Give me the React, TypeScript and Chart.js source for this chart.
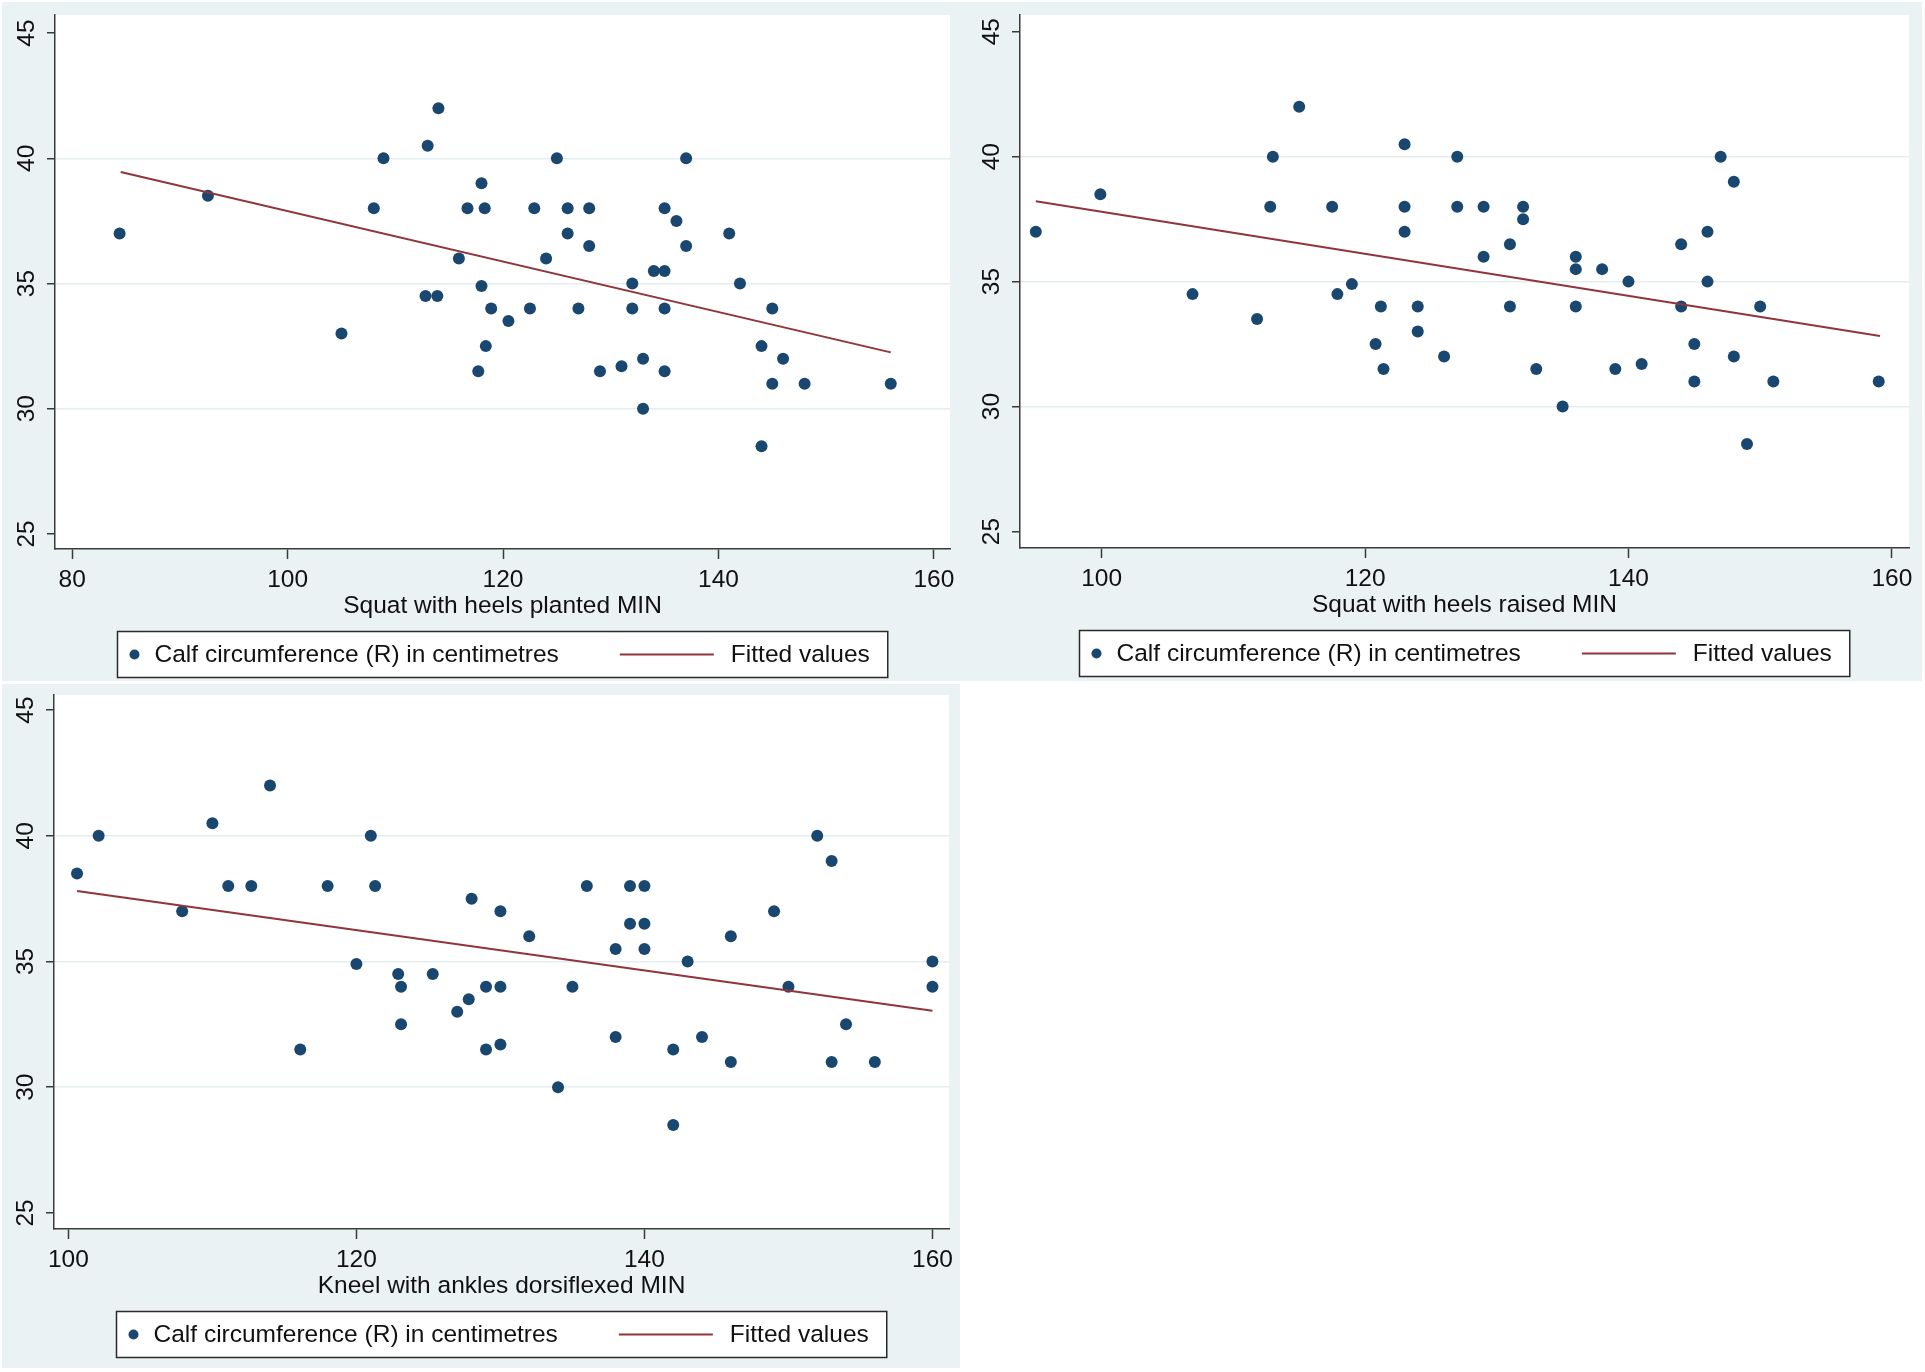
import React, { useEffect, useRef } from "react";
import { Chart, registerables } from "chart.js";

Chart.register(...registerables);

// ---------- data ----------
const yTickValues = [25, 30, 35, 40, 45];
const seriesLabel = "Calf circumference (R) in centimetres";
const fitLabel = "Fitted values";

// Panel 1: Squat with heels planted
const plantedTitle = "Squat with heels planted MIN";
const plantedXTicks = [80, 100, 120, 140, 160];
const plantedXRange = [78.4, 161.5];
const plantedYRange = [24.4, 45.72];
const plantedX = [84.4, 92.6, 105, 108, 108.9, 113, 114, 112.8, 113.9, 115.9, 116.7, 118, 118.3, 118, 118.9, 118.4, 117.7, 120.5, 122.5, 122.9, 124, 125, 126, 126, 127, 128, 128, 129, 131, 132, 132, 133, 133, 134, 135, 135, 135, 135, 136.1, 137, 137, 141, 142, 144, 144, 145, 145, 146, 148, 156];
const plantedY = [37, 38.5, 33, 38, 40, 40.5, 42, 34.5, 34.5, 36, 38, 39, 38, 34.9, 34, 32.5, 31.5, 33.5, 34, 38, 36, 40, 38, 37, 34, 38, 36.5, 31.5, 31.7, 35, 34, 32, 30, 35.5, 35.5, 38, 34, 31.5, 37.5, 40, 36.5, 37, 35, 32.5, 28.5, 34, 31, 32, 31, 31];
const plantedFitX = [84.5, 156];
const plantedFitY = [39.45, 32.25];

// Panel 2: Squat with heels raised
const raisedTitle = "Squat with heels raised MIN";
const raisedXTicks = [100, 120, 140, 160];
const raisedXRange = [93.8, 161.3];
const raisedYRange = [24.34, 45.67];
const raisedX = [95, 99.9, 106.9, 111.8, 112.8, 113, 115, 117.5, 117.9, 119, 120.8, 121.2, 121.4, 123, 123, 123, 124, 124, 126, 127, 127, 129, 129, 131, 131, 132, 132, 133, 135, 136, 136, 136, 138, 139, 140, 141, 144, 144, 145, 145, 146, 146, 147, 148, 148, 149, 150, 151, 159];
const raisedY = [37, 38.5, 34.5, 33.5, 38, 40, 42, 38, 34.5, 34.9, 32.5, 34, 31.5, 40.5, 38, 37, 34, 33, 32, 40, 38, 38, 36, 36.5, 34, 38, 37.5, 31.5, 30, 36, 35.5, 34, 35.5, 31.5, 35, 31.7, 36.5, 34, 32.5, 31, 37, 35, 40, 39, 32, 28.5, 34, 31, 31];
const raisedFitX = [95, 159.1];
const raisedFitY = [38.22, 32.82];

// Panel 3: Kneel with ankles dorsiflexed
const kneelTitle = "Kneel with ankles dorsiflexed MIN";
const kneelXTicks = [100, 120, 140, 160];
const kneelXRange = [99.0, 161.15];
const kneelYRange = [24.36, 45.6];
const kneelX = [100.6, 102.1, 107.9, 110, 111.1, 112.7, 114, 116.1, 118, 120, 121, 121.3, 122.9, 123.1, 123.1, 125.3, 127, 127.8, 128, 129, 129, 130, 130, 130, 132, 134, 135, 136, 138, 138, 139, 139, 140, 140, 140, 142, 142, 143, 144, 146, 146, 149, 150, 152, 153, 153, 154, 156, 160, 160];
const kneelY = [38.5, 40, 37, 40.5, 38, 38, 42, 31.5, 38, 34.9, 40, 38, 34.5, 34, 32.5, 34.5, 33, 33.5, 37.5, 34, 31.5, 37, 34, 31.7, 36, 30, 34, 38, 35.5, 32, 38, 36.5, 38, 36.5, 35.5, 31.5, 28.5, 35, 32, 36, 31, 37, 34, 40, 39, 31, 32.5, 31, 35, 34];
const kneelFitX = [100.6, 160];
const kneelFitY = [37.8, 33.04];

// ---------- styles ----------
const FONT_FAMILY = '"Liberation Sans", Arial, Helvetica, sans-serif';
const FONT_SIZE = 24.5;
const NAVY = "#1A476F";
const MAROON = "#90353B";
const PANEL_BG = "#EAF2F3";
const GRID = "#E4EDEF";
const AXIS = "#3a3a3a";
const TEXT = "#111111";

const plotBgPlugin = {
  id: "plotBg",
  beforeDraw(chart: any) {
    const { ctx, chartArea: a } = chart;
    ctx.save();
    ctx.fillStyle = "#ffffff";
    ctx.fillRect(a.left, a.top, a.right - a.left, a.bottom - a.top);
    ctx.restore();
  },
};

const stataLegendPlugin = {
  id: "stataLegend",
  afterDraw(chart: any) {
    const { ctx, chartArea: a } = chart;
    const dsPts = chart.data.datasets.find((d: any) => d.type === "scatter");
    const dsFit = chart.data.datasets.find((d: any) => d.type === "line");
    ctx.save();
    ctx.font = `${FONT_SIZE}px ${FONT_FAMILY}`;
    const w1 = ctx.measureText(dsPts.label).width;
    const w2 = ctx.measureText(dsFit.label).width;
    const padL = 17, dotGap = 20, midGap = 61, lineLen = 94, lineGap = 17, padR = 18;
    const boxW = padL + dotGap + w1 + midGap + lineLen + lineGap + w2 + padR;
    const cx = (a.left + a.right) / 2;
    const left = Math.round(cx - boxW / 2) + 0.5;
    const top = Math.round(a.bottom + 82) + 0.5;
    const h = 46;
    ctx.fillStyle = "#ffffff";
    ctx.fillRect(left, top, boxW, h);
    ctx.strokeStyle = "#2a2a2a";
    ctx.lineWidth = 1.5;
    ctx.strokeRect(left, top, boxW, h);
    const cy = top + h / 2;
    ctx.beginPath();
    ctx.arc(left + padL, cy, 5, 0, Math.PI * 2);
    ctx.fillStyle = dsPts.backgroundColor;
    ctx.fill();
    ctx.fillStyle = TEXT;
    ctx.textBaseline = "middle";
    ctx.textAlign = "left";
    ctx.fillText(dsPts.label, left + padL + dotGap, cy + 1);
    const lx = left + padL + dotGap + w1 + midGap;
    ctx.beginPath();
    ctx.moveTo(lx, cy);
    ctx.lineTo(lx + lineLen, cy);
    ctx.strokeStyle = dsFit.borderColor;
    ctx.lineWidth = 2;
    ctx.stroke();
    ctx.fillStyle = TEXT;
    ctx.fillText(dsFit.label, lx + lineLen + lineGap, cy + 1);
    ctx.restore();
  },
};

type PanelProps = {
  left: number;
  top: number;
  width: number;
  height: number;
  yAxisWidth: number;
  padTop: number;
  padRight: number;
  padBottom: number;
  xs: number[];
  ys: number[];
  fitX: number[];
  fitY: number[];
  xTicks: number[];
  xRange: number[];
  yRange: number[];
  xTitle: string;
};

function Panel(p: PanelProps) {
  const ref = useRef<HTMLCanvasElement | null>(null);
  useEffect(() => {
    if (!ref.current) return;
    const font = { family: FONT_FAMILY, size: FONT_SIZE };
    const chart = new Chart(ref.current, {
      type: "scatter",
      data: {
        datasets: [
          {
            type: "line",
            label: fitLabel,
            data: p.fitX.map((x, i) => ({ x, y: p.fitY[i] })),
            borderColor: MAROON,
            backgroundColor: MAROON,
            borderWidth: 2,
            pointRadius: 0,
            fill: false,
            order: 0,
          } as any,
          {
            type: "scatter",
            label: seriesLabel,
            data: p.xs.map((x, i) => ({ x, y: p.ys[i] })),
            backgroundColor: NAVY,
            borderColor: NAVY,
            borderWidth: 0,
            pointRadius: 6,
            order: 1,
          } as any,
        ],
      },
      options: {
        animation: false,
        responsive: false,
        events: [],
        layout: {
          autoPadding: false,
          padding: { left: 0, top: p.padTop, right: p.padRight, bottom: p.padBottom },
        },
        plugins: {
          legend: { display: false },
          tooltip: { enabled: false },
        },
        scales: {
          x: {
            type: "linear",
            position: "bottom",
            min: p.xRange[0],
            max: p.xRange[1],
            afterBuildTicks: (s: any) => {
              s.ticks = p.xTicks.map((v) => ({ value: v }));
            },
            afterFit: (s: any) => {
              s.height = 80;
              s.paddingLeft = 0;
              s.paddingRight = 0;
            },
            ticks: {
              font,
              color: TEXT,
              padding: 7,
              minRotation: 0,
              maxRotation: 0,
              autoSkip: false,
              callback: (v: any) => String(v),
            },
            grid: {
              drawOnChartArea: false,
              tickLength: 10,
              tickColor: AXIS,
              tickWidth: 1.5,
              color: AXIS,
            },
            border: { display: true, color: AXIS, width: 1.5 },
            title: {
              display: true,
              text: p.xTitle,
              font,
              color: TEXT,
              padding: { top: 0, bottom: 8 },
            },
          },
          y: {
            type: "linear",
            position: "left",
            min: p.yRange[0],
            max: p.yRange[1],
            afterBuildTicks: (s: any) => {
              s.ticks = yTickValues.map((v) => ({ value: v }));
            },
            afterFit: (s: any) => {
              s.width = p.yAxisWidth;
              s.paddingTop = 0;
              s.paddingBottom = 0;
            },
            ticks: {
              font,
              color: TEXT,
              padding: 6,
              minRotation: 90,
              maxRotation: 90,
              crossAlign: "center",
              autoSkip: false,
              callback: (v: any) => String(v),
            },
            grid: {
              color: (c: any) =>
                c.tick && (c.tick.value === yTickValues[0] || c.tick.value === yTickValues[yTickValues.length - 1])
                  ? "rgba(0,0,0,0)"
                  : GRID,
              lineWidth: 1.5,
              tickLength: 8,
              tickColor: AXIS,
              tickWidth: 1.5,
              drawOnChartArea: true,
            },
            border: { display: true, color: AXIS, width: 1.5 },
          },
        },
      } as any,
      plugins: [plotBgPlugin, stataLegendPlugin],
    });
    return () => chart.destroy();
  }, []);
  return (
    <div
      style={{
        position: "absolute",
        left: p.left,
        top: p.top,
        width: p.width,
        height: p.height,
        background: PANEL_BG,
      }}
    >
      <canvas ref={ref} width={p.width} height={p.height} style={{ display: "block", width: p.width, height: p.height }} />
    </div>
  );
}

export default function App() {
  return (
    <div style={{ position: "absolute", left: 0, top: 0, width: 1925, height: 1372, background: "#ffffff", overflow: "hidden" }}>
      <Panel
        left={2} top={2} width={958} height={679}
        yAxisWidth={53} padTop={13} padRight={10} padBottom={52}
        xs={plantedX} ys={plantedY} fitX={plantedFitX} fitY={plantedFitY}
        xTicks={plantedXTicks} xRange={plantedXRange} yRange={plantedYRange} xTitle={plantedTitle}
      />
      <Panel
        left={960} top={2} width={962} height={679}
        yAxisWidth={60} padTop={13} padRight={13} padBottom={53}
        xs={raisedX} ys={raisedY} fitX={raisedFitX} fitY={raisedFitY}
        xTicks={raisedXTicks} xRange={raisedXRange} yRange={raisedYRange} xTitle={raisedTitle}
      />
      <Panel
        left={2} top={684} width={958} height={684}
        yAxisWidth={52} padTop={11} padRight={11} padBottom={59}
        xs={kneelX} ys={kneelY} fitX={kneelFitX} fitY={kneelFitY}
        xTicks={kneelXTicks} xRange={kneelXRange} yRange={kneelYRange} xTitle={kneelTitle}
      />
    </div>
  );
}
